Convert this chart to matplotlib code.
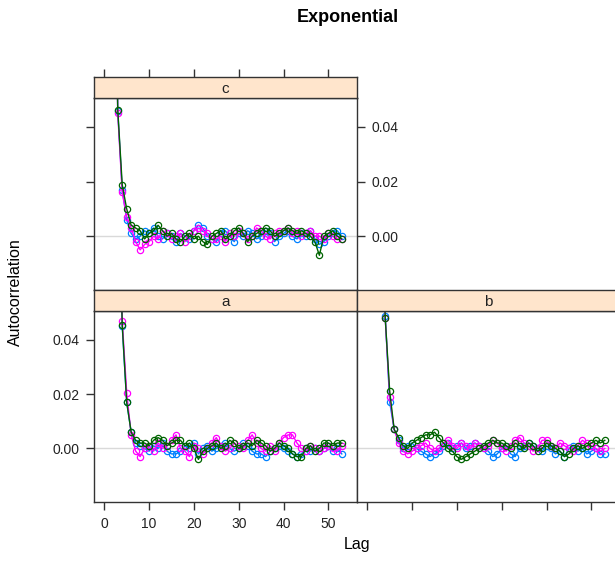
import matplotlib
matplotlib.use("Agg")
import matplotlib.pyplot as plt
import numpy as np

plt.rcParams["font.family"] = ["Liberation Sans", "DejaVu Sans"]

# ACF values per panel, lag = index (lags 0..53); first lags fall above the panel
c_blue = [1.0, 0.40, 0.15, 0.046, 0.017, 0.006, 0.001, -0.001, 0.000, 0.002,
          0.001, 0.003, 0.000, -0.001, 0.001, 0.000, -0.002, 0.001, 0.000, -0.001,
          0.002, 0.004, 0.003, 0.000, -0.001, -0.002, 0.001, 0.002, 0.000, -0.002,
          0.001, 0.000, 0.002, 0.001, -0.001, 0.000, 0.002, 0.001, -0.002, 0.000,
          0.001, 0.002, 0.000, -0.001, 0.001, 0.000, 0.002, -0.001, -0.003, -0.002,
          0.000, 0.001, 0.002, 0.000]
c_mag = [1.0, 0.40, 0.15, 0.045, 0.016, 0.007, 0.003, -0.002, -0.005, -0.003,
         -0.002, 0.000, -0.001, 0.002, 0.001, -0.001, 0.000, 0.001, -0.002, 0.000,
         0.002, 0.003, 0.002, 0.001, -0.001, -0.001, 0.000, -0.002, 0.001, 0.000,
         0.002, 0.001, -0.001, 0.000, 0.003, 0.002, 0.000, -0.001, 0.001, 0.002,
         0.002, 0.003, 0.001, 0.002, 0.000, 0.001, 0.002, 0.000, 0.000, -0.001,
         0.001, 0.000, -0.001, -0.001]
c_green = [1.0, 0.40, 0.15, 0.0463, 0.0188, 0.010, 0.004, 0.003, 0.002, -0.001,
           0.001, 0.002, 0.004, 0.002, 0.000, 0.001, -0.001, -0.002, 0.000, 0.001,
           -0.001, 0.000, -0.002, -0.003, 0.000, 0.001, 0.002, -0.001, 0.000, 0.002,
           0.003, 0.001, -0.002, 0.000, 0.001, 0.002, 0.003, 0.002, 0.000, 0.001,
           0.002, 0.003, 0.002, 0.001, 0.002, 0.001, 0.000, -0.002, -0.007, 0.000,
           0.001, 0.002, 0.000, -0.001]

a_blue = [1.0, 0.50, 0.25, 0.12, 0.045, 0.017, 0.006, 0.002, 0.001, 0.000,
          -0.001, 0.001, 0.000, 0.002, -0.001, -0.002, -0.002, -0.001, 0.001, 0.000,
          0.002, -0.002, 0.000, 0.001, -0.001, 0.000, 0.001, 0.002, 0.000, -0.001,
          0.000, 0.002, 0.001, -0.001, -0.002, -0.002, -0.003, -0.001, 0.000, 0.001,
          0.000, -0.001, -0.002, -0.003, -0.002, 0.000, -0.001, 0.000, -0.001, 0.000,
          0.001, -0.001, 0.000, -0.002]
a_mag = [1.0, 0.50, 0.25, 0.12, 0.047, 0.0205, 0.005, -0.001, -0.003, 0.000,
         0.001, -0.001, 0.002, 0.000, 0.001, 0.003, 0.005, 0.000, -0.001, -0.003,
         0.001, 0.000, -0.002, 0.000, 0.002, 0.004, 0.001, -0.001, 0.000, 0.002,
         0.001, 0.000, 0.003, 0.005, 0.002, 0.000, -0.001, 0.001, -0.001, 0.002,
         0.004, 0.005, 0.005, 0.002, 0.000, -0.001, 0.001, 0.000, -0.001, 0.000,
         0.001, 0.000, -0.001, 0.001]
a_green = [1.0, 0.50, 0.25, 0.12, 0.0455, 0.017, 0.006, 0.003, 0.002, 0.002,
           0.001, 0.003, 0.004, 0.003, 0.001, 0.002, 0.003, 0.003, 0.001, 0.002,
           0.000, -0.004, -0.001, 0.000, 0.001, 0.002, 0.000, 0.001, 0.003, 0.002,
           0.000, 0.001, 0.002, 0.001, 0.003, 0.002, 0.001, -0.001, 0.000, 0.002,
           0.001, 0.000, -0.002, -0.003, -0.003, 0.000, 0.001, -0.001, 0.000, 0.002,
           0.002, 0.001, 0.002, 0.002]

b_blue = [1.0, 0.50, 0.25, 0.12, 0.0487, 0.017, 0.007, 0.003, 0.000, 0.001,
          0.002, 0.000, -0.001, -0.002, -0.003, -0.002, -0.001, 0.001, 0.002, 0.000,
          0.001, 0.002, 0.000, 0.001, 0.002, 0.001, 0.000, -0.001, -0.003, -0.002,
          0.000, 0.001, -0.002, -0.003, 0.000, 0.001, 0.002, 0.001, 0.000, -0.001,
          0.001, 0.000, -0.002, -0.001, -0.003, 0.000, 0.001, -0.001, 0.000, -0.002,
          -0.001, 0.000, -0.002, -0.002]
b_mag = [1.0, 0.50, 0.25, 0.12, 0.048, 0.019, 0.007, 0.002, -0.001, -0.002,
         -0.001, 0.000, 0.001, 0.002, 0.000, -0.001, 0.000, 0.002, 0.003, 0.001,
         0.000, 0.002, 0.001, 0.000, 0.002, 0.001, 0.000, 0.001, 0.003, 0.002,
         0.000, -0.001, 0.001, 0.003, 0.004, 0.002, 0.001, -0.001, 0.000, 0.003,
         0.003, 0.001, 0.000, 0.002, 0.001, 0.000, -0.001, 0.001, 0.003, 0.002,
         0.001, 0.000, -0.001, 0.000]
b_green = [1.0, 0.50, 0.25, 0.12, 0.048, 0.021, 0.007, 0.004, 0.001, 0.000,
           0.002, 0.003, 0.004, 0.005, 0.005, 0.006, 0.004, 0.002, 0.000, -0.001,
           -0.003, -0.004, -0.003, -0.002, -0.001, 0.000, 0.001, 0.002, 0.003, 0.002,
           0.002, 0.001, 0.000, 0.002, 0.001, 0.000, 0.002, 0.001, -0.001, 0.000,
           0.002, 0.001, 0.000, -0.001, -0.003, -0.002, 0.000, 0.001, 0.000, 0.001,
           0.002, 0.003, 0.002, 0.003]

panels = {
    "c": [c_blue, c_mag, c_green],
    "a": [a_blue, a_mag, a_green],
    "b": [b_blue, b_mag, b_green],
}
colors = ["#0080ff", "#ff00ff", "#006400"]
x_ticks = [0, 10, 20, 30, 40, 50]
y_ticks = [0.00, 0.02, 0.04]
y_tick_labels = ["0.00", "0.02", "0.04"]

W, H = 615, 569
XLIM = (-2.3, 56.4)
YLIM = (-0.0197, 0.0506)
STRIP = "#ffe5cc"
FRAME = "#333333"


def box(x0, y0, x1, y1):
    return [x0 / W, 1 - y1 / H, (x1 - x0) / W, (y1 - y0) / H]


fig = plt.figure(figsize=(W / 100, H / 100), dpi=100)

layout = {
    "c": ((94, 98, 357, 290), (94, 77, 357, 98)),
    "a": ((94, 311, 357, 502), (94, 290, 357, 311)),
    "b": ((357, 311, 620, 502), (357, 290, 620, 311)),
}

for name, (pbox, sbox) in layout.items():
    ax = fig.add_axes(box(*pbox))
    ax.axhline(0, color="#d9d9d9", lw=1, zorder=0)
    for vals, col in zip(panels[name], colors):
        lag = np.arange(len(vals))
        ax.plot(lag, vals, color=col, lw=1, marker="o", ms=4.5, mfc="none",
                mew=0.9, mec=col)
    ax.set_xlim(*XLIM)
    ax.set_ylim(*YLIM)
    for sp in ax.spines.values():
        sp.set_color(FRAME)
        sp.set_linewidth(1)
    ax.tick_params(direction="out", length=5.5, width=1, color=FRAME,
                   labelsize=10, pad=5, labelcolor="#222222")
    ax.set_xticks(x_ticks)
    ax.set_yticks(y_ticks)
    ax.set_yticklabels(y_tick_labels)

    if name == "c":
        ax.tick_params(bottom=False, labelbottom=False, left=True, labelleft=False,
                       right=True, labelright=True)
    elif name == "a":
        ax.tick_params(bottom=True, labelbottom=True, left=True, labelleft=True,
                       right=False)
    else:
        ax.tick_params(bottom=True, labelbottom=False, left=False, labelleft=False,
                       right=False)

    sax = fig.add_axes(box(*sbox))
    sax.set_facecolor(STRIP)
    sax.set_xlim(*XLIM)
    sax.set_ylim(0, 1)
    sax.set_yticks([])
    for sp in sax.spines.values():
        sp.set_color(FRAME)
        sp.set_linewidth(1)
    if name == "c":
        sax.set_xticks(x_ticks)
        sax.tick_params(direction="out", length=5.5, width=1, color=FRAME,
                        top=True, bottom=False, labeltop=False, labelbottom=False)
    else:
        sax.set_xticks([])
    sax.text(0.5, 0.45, name, transform=sax.transAxes, ha="center", va="center",
             fontsize=11, color="#222222")

fig.text(348 / W, 1 - 18 / H, "Exponential", ha="center", va="center",
         fontsize=13, fontweight="bold")
fig.text(357 / W, 1 - 545 / H, "Lag", ha="center", va="center", fontsize=11.5)
fig.text(15 / W, 1 - 292 / H, "Autocorrelation", ha="center", va="center",
         rotation=90, fontsize=11.5)

fig.savefig("out.png", dpi=100)
